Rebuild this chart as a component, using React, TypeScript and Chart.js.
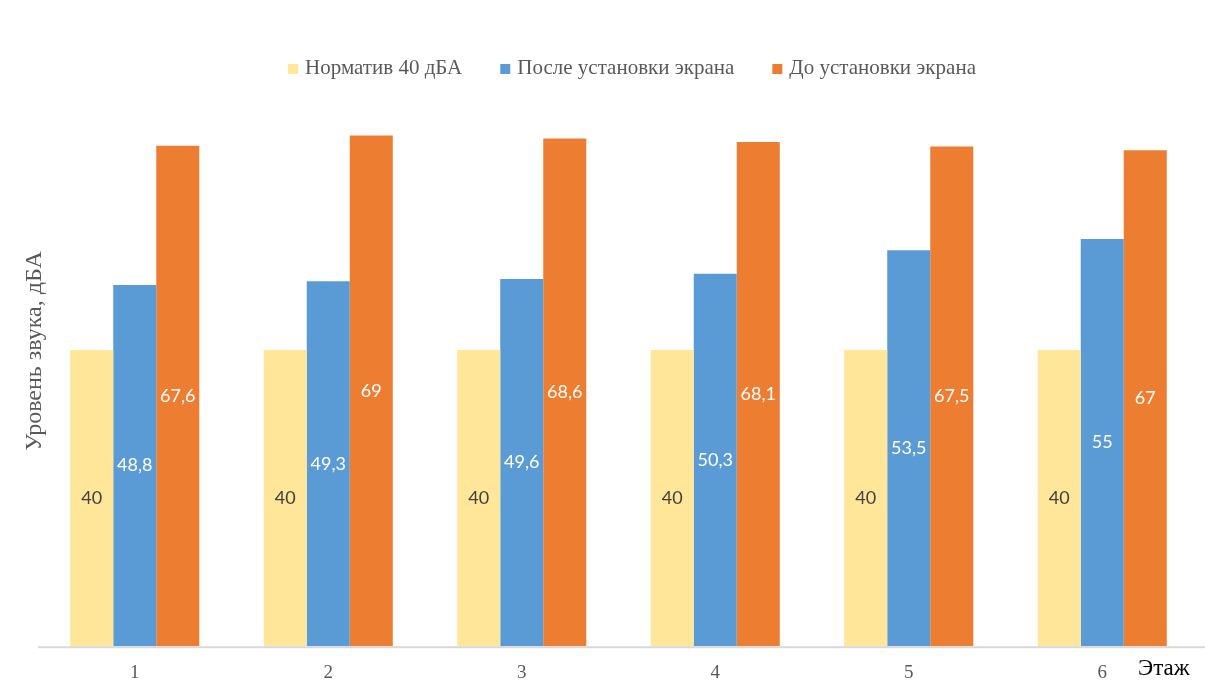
import React, { useEffect, useRef } from 'react';
import { Chart, ChartConfiguration, Plugin, registerables } from 'chart.js';

Chart.register(...registerables);

const floors = ['1', '2', '3', '4', '5', '6'];
const normValues = [40, 40, 40, 40, 40, 40];
const afterValues = [48.8, 49.3, 49.6, 50.3, 53.5, 55];
const beforeValues = [67.6, 69, 68.6, 68.1, 67.5, 67];

const seriesNames = ['Норматив 40 дБА', 'После установки экрана', 'До установки экрана'];
const seriesColors = ['#FFE699', '#5B9BD5', '#ED7D31'];
const labelColors = ['#404040', '#FFFFFF', '#FFFFFF'];

const SERIF = '"Liberation Serif", "Times New Roman", serif';

// values in the middle of each bar, decimal comma
const barLabels: Plugin<'bar'> = {
  id: 'barLabels',
  afterDatasetsDraw(chart) {
    const { ctx } = chart;
    ctx.save();
    ctx.font = '18px Lato, "Liberation Sans", sans-serif';
    ctx.textAlign = 'center';
    ctx.textBaseline = 'middle';
    chart.data.datasets.forEach((ds, i) => {
      const meta = chart.getDatasetMeta(i);
      ctx.fillStyle = labelColors[i];
      meta.data.forEach((el: any, j) => {
        const v = ds.data[j] as number;
        ctx.fillText(String(v).replace('.', ','), el.x, (el.y + el.base) / 2);
      });
    });
    ctx.restore();
  }
};

// Excel-like legend: small square, short gap, text
const legendRow: Plugin<'bar'> = {
  id: 'legendRow',
  afterDraw(chart) {
    const { ctx } = chart;
    ctx.save();
    ctx.font = `21px ${SERIF}`;
    ctx.textBaseline = 'middle';
    ctx.textAlign = 'left';
    const box = 10;
    const gap = 7;
    const itemGap = 38;
    const widths = chart.data.datasets.map(ds => ctx.measureText(String(ds.label)).width);
    const total = widths.reduce((s, w) => s + w + box + gap, 0) + itemGap * (widths.length - 1);
    let x = 632 - total / 2;
    const y = 68;
    chart.data.datasets.forEach((ds, i) => {
      ctx.fillStyle = ds.backgroundColor as string;
      ctx.fillRect(x, y - box / 2 + 1, box, box);
      x += box + gap;
      ctx.fillStyle = '#595959';
      ctx.fillText(String(ds.label), x, y);
      x += widths[i] + itemGap;
    });
    ctx.restore();
  }
};

// axis line (runs on to the right edge), rotated y title and "Этаж" at bottom right
const axisTitles: Plugin<'bar'> = {
  id: 'axisTitles',
  afterDraw(chart) {
    const { ctx, chartArea } = chart;

    ctx.save();
    ctx.fillStyle = '#D9D9D9';
    ctx.fillRect(chartArea.left, chartArea.bottom, chart.width - chartArea.left, 2);
    ctx.restore();

    ctx.save();
    ctx.font = `24px ${SERIF}`;
    ctx.fillStyle = '#595959';
    ctx.textAlign = 'center';
    ctx.textBaseline = 'middle';
    ctx.translate(35, 351);
    ctx.rotate(-Math.PI / 2);
    ctx.fillText('Уровень звука, дБА', 0, 0);
    ctx.restore();

    ctx.save();
    ctx.font = `23px ${SERIF}`;
    ctx.fillStyle = '#000000';
    ctx.textAlign = 'left';
    ctx.textBaseline = 'middle';
    ctx.fillText('Этаж', 1138, chartArea.bottom + 23);
    ctx.restore();
  }
};

const App: React.FC = () => {
  const chartRef = useRef<HTMLCanvasElement>(null);
  const chartInstanceRef = useRef<Chart | null>(null);

  useEffect(() => {
    if (!chartRef.current) return;
    const ctx = chartRef.current.getContext('2d');
    if (!ctx) return;

    const allValues = [normValues, afterValues, beforeValues];

    const config: ChartConfiguration<'bar'> = {
      type: 'bar',
      data: {
        labels: floors,
        datasets: allValues.map((values, i) => ({
          label: seriesNames[i],
          data: values,
          backgroundColor: seriesColors[i],
          borderWidth: 0,
          categoryPercentage: 0.667,
          barPercentage: 1.0
        }))
      },
      options: {
        responsive: true,
        maintainAspectRatio: false,
        animation: false,
        layout: {
          padding: { left: 38, right: 6, top: 91, bottom: 4 }
        },
        plugins: {
          legend: { display: false },
          tooltip: { enabled: false }
        },
        scales: {
          x: {
            grid: { display: false },
            border: { display: true, color: 'rgba(0,0,0,0)', width: 2 },
            ticks: {
              color: '#595959',
              padding: 7,
              font: { family: SERIF, size: 19 }
            }
          },
          y: {
            display: false,
            min: 0,
            max: 75
          }
        }
      },
      plugins: [barLabels, legendRow, axisTitles]
    };

    chartInstanceRef.current = new Chart(ctx, config);

    return () => {
      if (chartInstanceRef.current) {
        chartInstanceRef.current.destroy();
        chartInstanceRef.current = null;
      }
    };
  }, []);

  return (
    <div style={{ position: 'fixed', left: 0, top: 0, width: 1205, height: 695, background: '#fff' }}>
      <canvas ref={chartRef} />
    </div>
  );
};

export default App;
